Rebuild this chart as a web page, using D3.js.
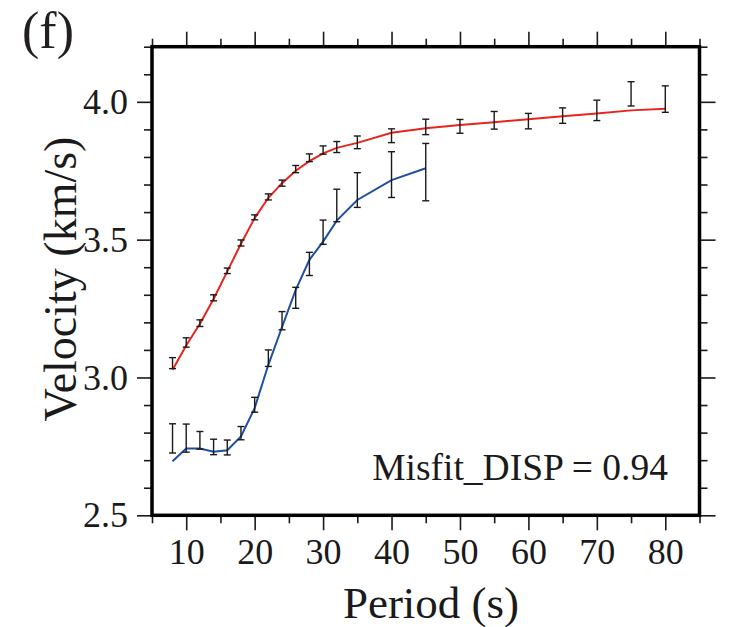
<!DOCTYPE html>
<html>
<head>
<meta charset="utf-8">
<script src="https://cdn.jsdelivr.net/npm/d3@7"></script>
<style>
  html, body { margin: 0; padding: 0; background: #fff; }
  svg { display: block; font-family: "Liberation Serif", "Times New Roman", serif; }
</style>
</head>
<body>
<svg id="chart" width="732" height="627"></svg>
<script>
// fundamental mode (red) : observed + error, and model
var redPeriods = [8, 10, 12, 14, 16, 18, 20, 22, 24, 26, 28, 30, 32, 35, 40, 45, 50, 55, 60, 65, 70, 75, 80];
var redObs = [3.052, 3.127, 3.197, 3.289, 3.387, 3.488, 3.581, 3.655, 3.705, 3.756, 3.797, 3.825, 3.836, 3.853, 3.877, 3.909, 3.911, 3.933, 3.930, 3.950, 3.969, 4.029, 4.010];
var redErr = [0.020, 0.017, 0.012, 0.011, 0.010, 0.011, 0.009, 0.011, 0.011, 0.013, 0.014, 0.015, 0.020, 0.023, 0.025, 0.028, 0.025, 0.032, 0.028, 0.028, 0.037, 0.044, 0.048];
var redModel = [3.028, 3.116, 3.195, 3.285, 3.385, 3.485, 3.578, 3.652, 3.705, 3.750, 3.785, 3.813, 3.833, 3.851, 3.888, 3.904, 3.916, 3.926, 3.937, 3.948, 3.958, 3.969, 3.975];

// blue curve
var bluePeriods = [8, 10, 12, 14, 16, 18, 20, 22, 24, 26, 28, 30, 32, 35, 40, 45];
var blueObs = [2.779, 2.780, 2.772, 2.748, 2.746, 2.798, 2.901, 3.070, 3.206, 3.289, 3.412, 3.527, 3.624, 3.680, 3.736, 3.745];
var blueErr = [0.053, 0.051, 0.032, 0.028, 0.027, 0.024, 0.027, 0.030, 0.033, 0.038, 0.042, 0.044, 0.059, 0.063, 0.083, 0.104];
var blueModel = [2.696, 2.742, 2.742, 2.731, 2.736, 2.786, 2.889, 3.046, 3.183, 3.318, 3.427, 3.493, 3.569, 3.644, 3.716, 3.759];

var xMajor = [10, 20, 30, 40, 50, 60, 70, 80];
var xMinor = [5, 15, 25, 35, 45, 55, 65, 75, 85];
var yMajor = [2.5, 3.0, 3.5, 4.0];
var yMinor = [2.6, 2.7, 2.8, 2.9, 3.1, 3.2, 3.3, 3.4, 3.6, 3.7, 3.8, 3.9, 4.1, 4.2];

var misfitText = "Misfit_DISP = 0.94";
var panelLabel = "(f)";
var xTitle = "Period (s)";
var yTitle = "Velocity (km/s)";

var svg = d3.select("#chart");
var plotL = 152, plotR = 699.5, plotT = 46.7, plotB = 515.3;

var x = d3.scaleLinear().domain([5, 85]).range([plotL, plotR]);
var y = d3.scaleLinear().domain([2.5, 4.2]).range([plotB, plotT]);

var ink = "#1a1a1a";

function styleAxis(g) {
  g.select(".domain").remove();
  g.selectAll(".tick line").attr("stroke", ink).attr("stroke-width", 1.6);
  g.selectAll(".tick text").attr("fill", ink).attr("font-size", 36)
    .attr("font-family", "Liberation Serif, Times New Roman, serif");
}

// bottom
svg.append("g").attr("transform", "translate(0," + plotB + ")")
  .call(d3.axisBottom(x).tickValues(xMajor).tickSize(15).tickPadding(8).tickFormat(d3.format("d")))
  .call(styleAxis);
svg.append("g").attr("transform", "translate(0," + plotB + ")")
  .call(d3.axisBottom(x).tickValues(xMinor).tickSize(8).tickFormat(""))
  .call(styleAxis);
// top
svg.append("g").attr("transform", "translate(0," + plotT + ")")
  .call(d3.axisTop(x).tickValues(xMajor).tickSize(15).tickFormat(""))
  .call(styleAxis);
svg.append("g").attr("transform", "translate(0," + plotT + ")")
  .call(d3.axisTop(x).tickValues(xMinor).tickSize(8).tickFormat(""))
  .call(styleAxis);
// left
svg.append("g").attr("transform", "translate(" + plotL + ",0)")
  .call(d3.axisLeft(y).tickValues(yMajor).tickSize(15).tickPadding(9).tickFormat(d3.format(".1f")))
  .call(styleAxis);
svg.append("g").attr("transform", "translate(" + plotL + ",0)")
  .call(d3.axisLeft(y).tickValues(yMinor).tickSize(8).tickFormat(""))
  .call(styleAxis);
// right
svg.append("g").attr("transform", "translate(" + plotR + ",0)")
  .call(d3.axisRight(y).tickValues(yMajor).tickSize(16).tickFormat(""))
  .call(styleAxis);
svg.append("g").attr("transform", "translate(" + plotR + ",0)")
  .call(d3.axisRight(y).tickValues(yMinor).tickSize(8).tickFormat(""))
  .call(styleAxis);

// frame
svg.append("rect")
  .attr("x", plotL).attr("y", plotT)
  .attr("width", plotR - plotL).attr("height", plotB - plotT)
  .attr("fill", "none").attr("stroke", "#000").attr("stroke-width", 3.5);

var line = d3.line().x(function (d) { return x(d[0]); }).y(function (d) { return y(d[1]); });

function drawSeries(periods, model, obs, err, color) {
  svg.append("path")
    .datum(d3.zip(periods, model))
    .attr("d", line)
    .attr("fill", "none")
    .attr("stroke", color)
    .attr("stroke-width", 2);

  var bars = svg.append("g").selectAll("g")
    .data(d3.zip(periods, obs, err))
    .join("g")
    .attr("stroke", ink)
    .attr("stroke-width", 1.4);
  bars.append("line")
    .attr("x1", function (d) { return x(d[0]); })
    .attr("x2", function (d) { return x(d[0]); })
    .attr("y1", function (d) { return y(d[1] - d[2]); })
    .attr("y2", function (d) { return y(d[1] + d[2]); });
  [-1, 1].forEach(function (s) {
    bars.append("line")
      .attr("x1", function (d) { return x(d[0]) - 3.5; })
      .attr("x2", function (d) { return x(d[0]) + 3.5; })
      .attr("y1", function (d) { return y(d[1] + s * d[2]); })
      .attr("y2", function (d) { return y(d[1] + s * d[2]); });
  });
}

drawSeries(redPeriods, redModel, redObs, redErr, "#e8241d");
drawSeries(bluePeriods, blueModel, blueObs, blueErr, "#1f4f9e");

// texts
svg.append("text")
  .attr("x", 668).attr("y", 480)
  .attr("text-anchor", "end")
  .attr("font-size", 37.5)
  .attr("fill", ink)
  .text(misfitText);

svg.append("text")
  .attr("x", 431).attr("y", 618)
  .attr("text-anchor", "middle")
  .attr("font-size", 45)
  .attr("fill", ink)
  .text(xTitle);

svg.append("text")
  .attr("transform", "translate(76," + ((plotT + plotB) / 2 - 2) + ") rotate(-90)")
  .attr("text-anchor", "middle")
  .attr("font-size", 46)
  .attr("fill", ink)
  .text(yTitle);

svg.append("text")
  .attr("x", 22).attr("y", 48)
  .attr("font-size", 52)
  .attr("fill", "#231f20")
  .text(panelLabel);
</script>
</body>
</html>
